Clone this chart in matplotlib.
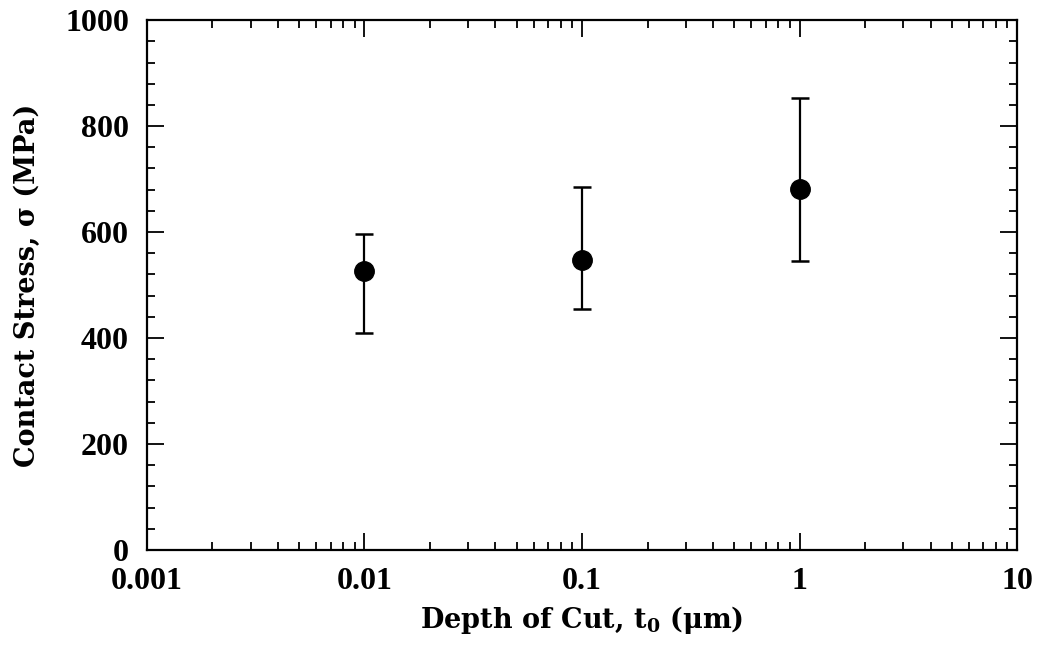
import matplotlib
matplotlib.use('Agg')
import matplotlib.pyplot as plt
from matplotlib.ticker import LogLocator, FuncFormatter, MultipleLocator, NullFormatter

# data
depth = [0.01, 0.1, 1.0]
stress = [526, 548, 681]
stress_upper = [596, 685, 853]
stress_lower = [410, 454, 546]

x_ticks = [0.001, 0.01, 0.1, 1, 10]
y_ticks = [0, 200, 400, 600, 800, 1000]

plt.rcParams['font.family'] = ['Liberation Serif', 'DejaVu Serif']
plt.rcParams['font.weight'] = 'bold'
plt.rcParams['mathtext.fontset'] = 'custom'
plt.rcParams['mathtext.rm'] = 'DejaVu Serif:bold'
plt.rcParams['mathtext.it'] = 'DejaVu Serif:bold'
plt.rcParams['mathtext.bf'] = 'DejaVu Serif:bold'

fig = plt.figure(figsize=(10.4, 6.49), dpi=100)
ax = fig.add_axes([0.1413, 0.1525, 0.8367, 0.8165])

err_lo = [s - l for s, l in zip(stress, stress_lower)]
err_hi = [u - s for s, u in zip(stress, stress_upper)]
ax.errorbar(depth, stress, yerr=[err_lo, err_hi], fmt='o', color='black',
            markersize=14, elinewidth=1.6, capsize=6.5, capthick=1.8)

ax.set_xscale('log')
ax.set_xlim(0.001, 10)
ax.set_ylim(0, 1000)

ax.xaxis.set_major_locator(LogLocator(base=10))
ax.xaxis.set_minor_locator(LogLocator(base=10, subs=range(2, 10)))
ax.xaxis.set_minor_formatter(NullFormatter())
ax.set_xticks(x_ticks)
ax.xaxis.set_major_formatter(FuncFormatter(lambda v, p: '%g' % v))
ax.set_yticks(y_ticks)
ax.yaxis.set_minor_locator(MultipleLocator(40))

for sp in ax.spines.values():
    sp.set_linewidth(1.6)

ax.tick_params(which='both', direction='in', top=True, right=True, width=1.3)
ax.tick_params(which='major', length=12, labelsize=23)
ax.tick_params(which='minor', length=6)
ax.tick_params(axis='y', which='major', pad=13)
ax.tick_params(axis='x', which='major', pad=12)

label_font = {'family': 'DejaVu Serif', 'weight': 'bold'}
ax.set_xlabel(r'Depth of Cut, $\mathrm{t_0}$ (μm)', fontsize=19.5, fontdict=label_font, labelpad=6)
ax.set_ylabel('Contact Stress, σ (MPa)', fontsize=19.5, fontdict=label_font, labelpad=17)

fig.savefig('out.png', dpi=100)
